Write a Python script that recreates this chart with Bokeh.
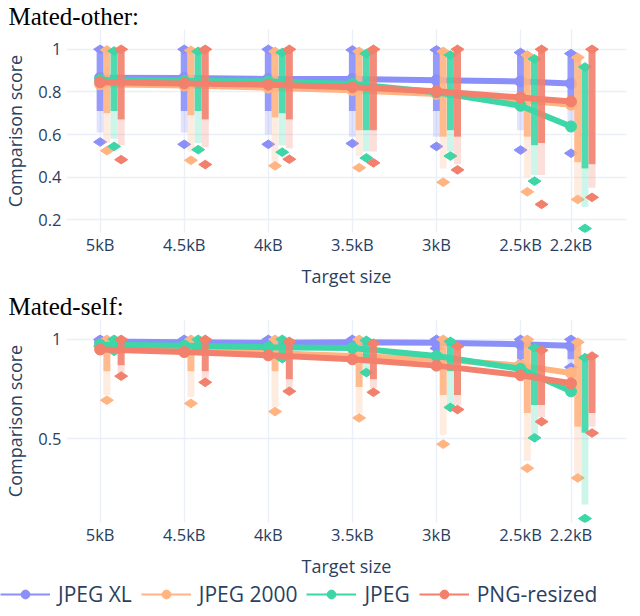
from bokeh.plotting import figure
from bokeh.layouts import column, row
from bokeh.models import Range1d, FixedTicker, Legend, LegendItem, ColumnDataSource
from bokeh.transform import dodge
from bokeh.embed import file_html
from bokeh.resources import INLINE

# target sizes (kB) and their tick labels
sizes = [5, 4.5, 4, 3.5, 3, 2.5, 2.2]
size_labels = ["5kB", "4.5kB", "4kB", "3.5kB", "3kB", "2.5kB", "2.2kB"]
codecs = ["JPEG XL", "JPEG 2000", "JPEG", "PNG-resized"]
colors = ["#8b8ff9", "#ffb482", "#3dd6a6", "#f2806c"]
offsets = [0, 0.04, 0.083, 0.125]

# Mated-other: mean line, max, dense lower end, faint lower end, min
other_mean = {
    "JPEG XL": [0.867, 0.865, 0.861, 0.861, 0.855, 0.849, 0.840],
    "JPEG 2000": [0.836, 0.830, 0.820, 0.808, 0.790, 0.762, 0.740],
    "JPEG": [0.856, 0.852, 0.849, 0.837, 0.798, 0.735, 0.638],
    "PNG-resized": [0.845, 0.840, 0.834, 0.822, 0.803, 0.774, 0.755],
}
other_max = {
    "JPEG XL": [1.0, 1.0, 1.0, 0.997, 0.997, 0.985, 0.98],
    "JPEG 2000": [0.997, 0.995, 0.99, 0.99, 0.99, 0.973, 0.962],
    "JPEG": [0.992, 0.99, 0.985, 0.98, 0.973, 0.955, 0.917],
    "PNG-resized": [1.0, 1.0, 1.0, 1.0, 1.0, 1.0, 1.0],
}
other_dense = {
    "JPEG XL": [0.71, 0.71, 0.71, 0.71, 0.71, 0.73, 0.72],
    "JPEG 2000": [0.70, 0.69, 0.68, 0.62, 0.59, 0.59, 0.47],
    "JPEG": [0.71, 0.71, 0.70, 0.62, 0.62, 0.55, 0.44],
    "PNG-resized": [0.67, 0.67, 0.67, 0.62, 0.59, 0.56, 0.46],
}
other_fade = {
    "JPEG XL": [0.61, 0.61, 0.60, 0.59, 0.59, 0.62, 0.61],
    "JPEG 2000": [0.56, 0.52, 0.47, 0.50, 0.44, 0.40, 0.30],
    "JPEG": [0.58, 0.56, 0.55, 0.52, 0.52, 0.41, 0.26],
    "PNG-resized": [0.55, 0.54, 0.535, 0.52, 0.46, 0.41, 0.35],
}
other_min = {
    "JPEG XL": [0.565, 0.554, 0.554, 0.558, 0.544, 0.527, 0.512],
    "JPEG 2000": [0.524, 0.479, 0.453, 0.444, 0.376, 0.331, 0.295],
    "JPEG": [0.544, 0.529, 0.517, 0.490, 0.499, 0.381, 0.159],
    "PNG-resized": [0.482, 0.459, 0.484, 0.467, 0.434, 0.272, 0.305],
}

# Mated-self
self_mean = {
    "JPEG XL": [0.989, 0.986, 0.983, 0.985, 0.983, 0.976, 0.968],
    "JPEG 2000": [0.965, 0.949, 0.932, 0.916, 0.900, 0.868, 0.831],
    "JPEG": [0.973, 0.968, 0.961, 0.957, 0.916, 0.852, 0.739],
    "PNG-resized": [0.949, 0.936, 0.920, 0.900, 0.868, 0.820, 0.779],
}
self_max = {
    "JPEG XL": [1.0, 1.0, 1.0, 1.0, 1.0, 1.0, 1.0],
    "JPEG 2000": [1.0, 1.0, 1.0, 1.0, 1.0, 1.0, 0.986],
    "JPEG": [1.0, 1.0, 1.0, 0.995, 0.99, 0.957, 0.908],
    "PNG-resized": [1.0, 1.0, 0.99, 0.98, 0.965, 0.945, 0.916],
}
self_dense = {
    "JPEG XL": [0.97, 0.96, 0.95, 0.97, 0.96, 0.90, 0.90],
    "JPEG 2000": [0.84, 0.84, 0.84, 0.76, 0.72, 0.63, 0.56],
    "JPEG": [0.95, 0.95, 0.92, 0.88, 0.84, 0.67, 0.53],
    "PNG-resized": [0.87, 0.84, 0.80, 0.80, 0.72, 0.67, 0.63],
}
self_fade = {
    "JPEG XL": [0.965, 0.955, 0.945, 0.965, 0.955, 0.88, 0.86],
    "JPEG 2000": [0.72, 0.71, 0.66, 0.63, 0.52, 0.39, 0.32],
    "JPEG": [0.94, 0.945, 0.905, 0.84, 0.67, 0.52, 0.17],
    "PNG-resized": [0.83, 0.80, 0.755, 0.755, 0.67, 0.61, 0.56],
}
self_min = {
    "JPEG XL": [0.965, 0.955, 0.945, 0.965, 0.955, 0.879, 0.86],
    "JPEG 2000": [0.694, 0.678, 0.637, 0.605, 0.473, 0.352, 0.303],
    "JPEG": [0.94, 0.945, 0.903, 0.833, 0.658, 0.505, 0.099],
    "PNG-resized": [0.815, 0.784, 0.739, 0.734, 0.647, 0.586, 0.529],
}

FONT = "Open Sans"
TXT = "#2a3f5f"
GRID = "#ebf0f8"


def panel(title, mean, mx, dense, fade, mn, yr, yticks, frame_h):
    p = figure(frame_width=560, frame_height=frame_h,
               x_range=Range1d(5.2, 1.87), y_range=Range1d(*yr),
               output_backend="svg", toolbar_location=None,
               title=title, min_border_left=0, min_border_right=2,
               min_border_top=0, min_border_bottom=0)
    p.outline_line_color = None
    p.title.text_font = "Liberation Serif"
    p.title.text_font_size = "25px"
    p.title.text_font_style = "normal"
    p.title.text_color = "black"
    p.title.offset = -58
    p.title.standoff = 0

    p.xaxis.ticker = FixedTicker(ticks=sizes)
    p.xaxis.major_label_overrides = dict(zip(sizes, size_labels))
    p.yaxis.ticker = FixedTicker(ticks=yticks)
    p.yaxis.major_label_overrides = {1: "1"}
    p.xaxis.axis_label = "Target size"
    p.yaxis.axis_label = "Comparison score"
    for ax in (p.xaxis, p.yaxis):
        ax.axis_line_color = None
        ax.major_tick_line_color = None
        ax.minor_tick_line_color = None
        ax.major_tick_out = 0
        ax.major_tick_in = 0
        ax.minor_tick_out = 0
        ax.major_label_text_font = FONT
        ax.major_label_text_font_size = "16.5px"
        ax.major_label_text_color = TXT
        ax.axis_label_text_font = FONT
        ax.axis_label_text_font_size = "18px"
        ax.axis_label_text_font_style = "normal"
        ax.axis_label_text_color = TXT
    p.xaxis.major_label_standoff = 0
    p.xaxis.axis_label_standoff = 5
    p.yaxis.major_label_standoff = 5
    p.yaxis.axis_label_standoff = 8
    p.grid.grid_line_color = GRID
    p.grid.grid_line_width = 1.5

    for i, c in enumerate(codecs):
        src = ColumnDataSource(dict(x=sizes, mean=mean[c], mx=mx[c],
                                    dense=dense[c], fade=fade[c], mn=mn[c]))
        xs = dodge("x", -offsets[i], range=p.x_range)
        p.segment(x0=xs, y0="fade", x1=xs, y1="dense", source=src,
                  line_color=colors[i], line_width=7, line_alpha=0.25)
        p.segment(x0=xs, y0="dense", x1=xs, y1="mx", source=src,
                  line_color=colors[i], line_width=7, line_alpha=0.9)
        p.scatter(x=xs, y="mx", source=src, marker="diamond", angle=1.5708,
                  size=13, color=colors[i])
        p.scatter(x=xs, y="mn", source=src, marker="diamond", angle=1.5708,
                  size=13, color=colors[i])
        p.line(x="x", y="mean", source=src, line_color=colors[i], line_width=6)
        p.scatter(x="x", y="mean", source=src, size=11, color=colors[i])
    return p


top = panel("Mated-other:", other_mean, other_max, other_dense, other_fade,
            other_min, (0.14, 1.093), [0.2, 0.4, 0.6, 0.8, 1], 203)
bottom = panel("Mated-self:", self_mean, self_max, self_dense, self_fade,
               self_min, (0.079, 1.10), [0.5, 1], 203)

# legend strip: thin line + dot per codec (the renderers lie outside its view)
leg = figure(width=624, height=32, output_backend="svg", toolbar_location=None,
             x_axis_location=None, y_axis_location=None, min_border=0,
             x_range=Range1d(10, 11), y_range=Range1d(0, 1))
leg.grid.visible = False
leg.outline_line_color = None
items = []
for i, c in enumerate(codecs):
    ln = leg.line(x=sizes, y=self_mean[c], line_color=colors[i], line_width=2)
    dot = leg.scatter(x=sizes, y=self_mean[c], size=11, color=colors[i])
    items.append(LegendItem(label=c, renderers=[ln, dot]))
legend = Legend(items=items, orientation="horizontal", location="top_left",
                label_text_font=FONT, label_text_font_size="21px",
                label_text_color=TXT, glyph_width=50, glyph_height=22,
                label_standoff=8, spacing=9, padding=0, margin=0,
                border_line_color=None, background_fill_alpha=0)
leg.add_layout(legend, "center")

layout = column(top, bottom, row(leg), spacing=0)
open("out.html", "w").write(file_html(layout, INLINE))
